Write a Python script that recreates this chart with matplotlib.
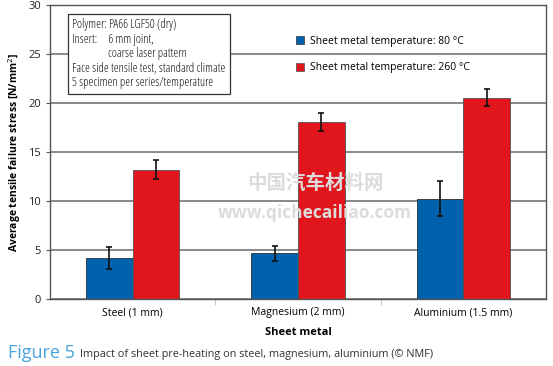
import numpy as np
import matplotlib
matplotlib.use('Agg')
import matplotlib.pyplot as plt
from matplotlib.patches import Patch

# data
categories = ['Steel (1 mm)', 'Magnesium (2 mm)', 'Aluminium (1.5 mm)']
stress_80 = [4.2, 4.65, 10.25]
err_80 = [1.1, 0.8, 1.8]
stress_260 = [13.2, 18.05, 20.55]
err_260 = [1.0, 0.95, 0.85]
series_labels = ['Sheet metal temperature: 80 °C', 'Sheet metal temperature: 260 °C']

blue = '#0062AC'
red = '#E1161C'
plt.rcParams['font.family'] = ['Open Sans', 'DejaVu Sans']


def main():
    fig = plt.figure(figsize=(5.53, 3.66), dpi=100)
    ax = fig.add_axes([50/553., 67/366., 496/553., 294/366.])

    x = np.arange(len(categories))
    w = 0.282
    ax.bar(x - w/2, stress_80, w, color=blue, edgecolor='#303030', lw=0.6, zorder=2)
    ax.bar(x + w/2, stress_260, w, color=red, edgecolor='#505050', lw=0.6, zorder=2)
    ax.errorbar(x - w/2, stress_80, yerr=err_80, fmt='none', ecolor='#111111',
                elinewidth=1.2, capsize=2.5, capthick=1.2, zorder=3)
    ax.errorbar(x + w/2, stress_260, yerr=err_260, fmt='none', ecolor='#111111',
                elinewidth=1.2, capsize=2.5, capthick=1.2, zorder=3)

    ax.set_xlim(-0.5, 2.5)
    ax.set_ylim(0, 30)
    ax.set_yticks(range(0, 31, 5))
    ax.yaxis.grid(True, color='#6a6a6a', lw=1.1, zorder=0)
    ax.set_axisbelow(True)

    ax.set_xticks(x)
    ax.set_xticklabels(categories, fontsize=7.5)
    ax.tick_params(axis='x', length=0, pad=6)
    ax.set_xticks([0.5, 1.5], minor=True)
    ax.tick_params(axis='x', which='minor', length=4, color='#bbbbbb')
    ax.tick_params(axis='y', labelsize=8, length=3, color='#555555', colors='#222222')
    for s in ax.spines.values():
        s.set_color('#555555')
        s.set_linewidth(1.0)

    ax.set_xlabel('Sheet metal', fontsize=8, fontweight='bold', labelpad=6)
    ax.set_ylabel('Average tensile failure stress [N/mm$^2$]', fontsize=7.5,
                  fontweight='bold', labelpad=4)

    # note box
    note = ('Polymer: PA66 LGF50 (dry)\n'
            'Insert:     6 mm joint,\n'
            '                coarse laser pattern\n'
            'Face side tensile test, standard climate\n'
            '5 specimen per series/temperature')
    ax.text(0.045, 0.955, note, transform=ax.transAxes, fontsize=8.8, va='top', ha='left',
            fontstretch='condensed', linespacing=1.15, zorder=5, color='#111111',
            bbox=dict(boxstyle='square,pad=0.35', fc='white', ec='#333333', lw=0.9))

    handles = [Patch(facecolor=blue, edgecolor='#303030', lw=0.5),
               Patch(facecolor=red, edgecolor='#505050', lw=0.5)]
    ax.legend(handles, series_labels, loc='upper left', bbox_to_anchor=(0.495, 0.895),
              frameon=False, fontsize=7.5, handlelength=0.8, handleheight=0.8,
              handletextpad=0.6, labelspacing=1.5, borderpad=0, borderaxespad=0)

    # watermark
    fig.text(0.57, 0.50, '中国汽车材料网', fontsize=14, fontweight='bold', color='#dcdcdc',
             ha='center', va='center', family=['Noto Sans CJK SC', 'DejaVu Sans'], zorder=10)
    fig.text(0.57, 0.418, 'www.qichecailiao.com', fontsize=12.5, fontweight='bold',
             color='#dcdcdc', ha='center', va='center', zorder=10)

    # caption
    fig.text(8/553., 13/366., 'Figure 5', fontsize=13, color='#4aa3da', va='center')
    fig.text(80/553., 12/366., 'Impact of sheet pre-heating on steel, magnesium, aluminium (© NMF)',
             fontsize=7.85, color='#333333', va='center')

    fig.savefig('out.png', dpi=100)


if __name__ == "__main__":
    main()
